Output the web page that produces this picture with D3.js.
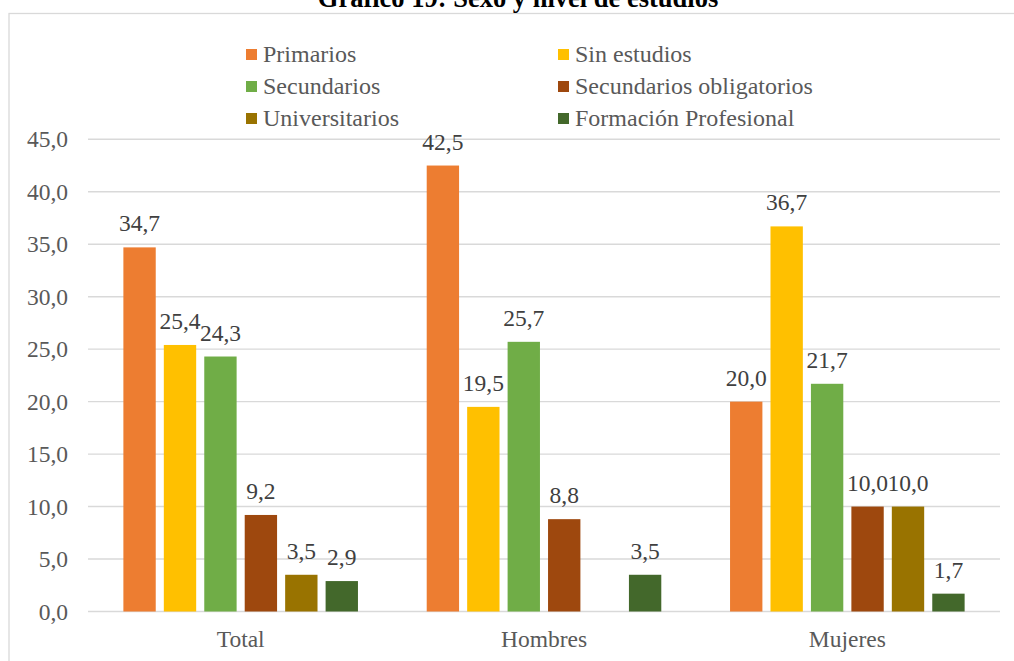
<!DOCTYPE html>
<html><head><meta charset="utf-8">
<script src="https://cdn.jsdelivr.net/npm/d3@7"></script>
<style>body{margin:0;background:#fff;}svg{display:block;font-family:"Liberation Serif","Times New Roman",serif;}</style>
</head><body><svg id="c" width="1014" height="661"></svg>
<script>
const title = "Gráfico 19: Sexo y nivel de estudios";
const categories = ["Total", "Hombres", "Mujeres"];
const seriesNames = ["Primarios", "Sin estudios", "Secundarios", "Secundarios obligatorios", "Universitarios", "Formación Profesional"];
const seriesColors = ["#ED7D31", "#FFC000", "#70AD47", "#9E480E", "#997300", "#43682B"];
const primarios = [34.7, 42.5, 20.0];
const sinEstudios = [25.4, 19.5, 36.7];
const secundarios = [24.3, 25.7, 21.7];
const secObligatorios = [9.2, 8.8, 10.0];
const universitarios = [3.5, null, 10.0];
const formacionProf = [2.9, 3.5, 1.7];
const yTicks = [0, 5, 10, 15, 20, 25, 30, 35, 40, 45];

const seriesValues = [primarios, sinEstudios, secundarios, secObligatorios, universitarios, formacionProf];
const fmt = v => v.toFixed(1).replace(".", ",");

const svg = d3.select("#c");
svg.append("rect").attr("x", 9).attr("y", 13.5).attr("width", 1020).attr("height", 660)
  .attr("fill", "#fff").attr("stroke", "#d9d9d9").attr("stroke-width", 1.3);

svg.append("text").attr("x", 518).attr("y", 7).attr("text-anchor", "middle")
  .attr("font-weight", "bold").attr("font-size", 26.5).attr("fill", "#000").text(title);

const y = d3.scaleLinear().domain([0, 45]).range([611.5, 139.3]);
const x0 = d3.scaleBand().domain(categories).range([89, 999]).paddingInner(0.2).paddingOuter(0.1);
const x1 = d3.scaleBand().domain(seriesNames).range([0, x0.bandwidth()]).paddingInner(0.2).paddingOuter(0.1);

// gridlines
svg.append("g").selectAll("line").data(yTicks).join("line")
  .attr("x1", 88).attr("x2", 1000)
  .attr("y1", d => y(d)).attr("y2", d => y(d))
  .attr("stroke", "#d9d9d9").attr("stroke-width", 1.4);

// y axis labels
const yAxis = svg.append("g").attr("transform", "translate(89,0)")
  .call(d3.axisLeft(y).tickValues(yTicks).tickFormat(fmt).tickSize(0).tickPadding(21));
yAxis.select(".domain").remove();
yAxis.selectAll("text").attr("font-family", "Liberation Serif").attr("font-size", 23.5).attr("fill", "#595959");

// x axis labels
const xAxis = svg.append("g").attr("transform", "translate(0,611.5)")
  .call(d3.axisBottom(x0).tickSize(0).tickPadding(19));
xAxis.select(".domain").remove();
xAxis.selectAll("text").attr("font-family", "Liberation Serif").attr("font-size", 23.5).attr("fill", "#595959");

// bars
const data = [];
seriesNames.forEach((s, si) => categories.forEach((c, ci) => {
  const v = seriesValues[si][ci];
  if (v != null) data.push({s, c, v, color: seriesColors[si]});
}));
const bars = svg.append("g");
bars.selectAll("rect").data(data).join("rect")
  .attr("x", d => x0(d.c) + x1(d.s)).attr("width", x1.bandwidth())
  .attr("y", d => y(d.v)).attr("height", d => y(0) - y(d.v))
  .attr("fill", d => d.color);
bars.selectAll("text").data(data).join("text")
  .attr("x", d => x0(d.c) + x1(d.s) + x1.bandwidth() / 2)
  .attr("y", d => y(d.v) - 16).attr("text-anchor", "middle")
  .attr("font-size", 23.5).attr("fill", "#404040").text(d => fmt(d.v));

// legend
const leg = svg.append("g");
seriesNames.forEach((s, i) => {
  const col = i % 2, row = Math.floor(i / 2);
  const lx = col === 0 ? 246 : 558;
  const base = 62 + row * 32;
  leg.append("rect").attr("x", lx).attr("y", base - 13).attr("width", 11).attr("height", 11).attr("fill", seriesColors[i]);
  leg.append("text").attr("x", lx + 17).attr("y", base).attr("font-size", 24).attr("fill", "#595959").text(s);
});
</script></body></html>
